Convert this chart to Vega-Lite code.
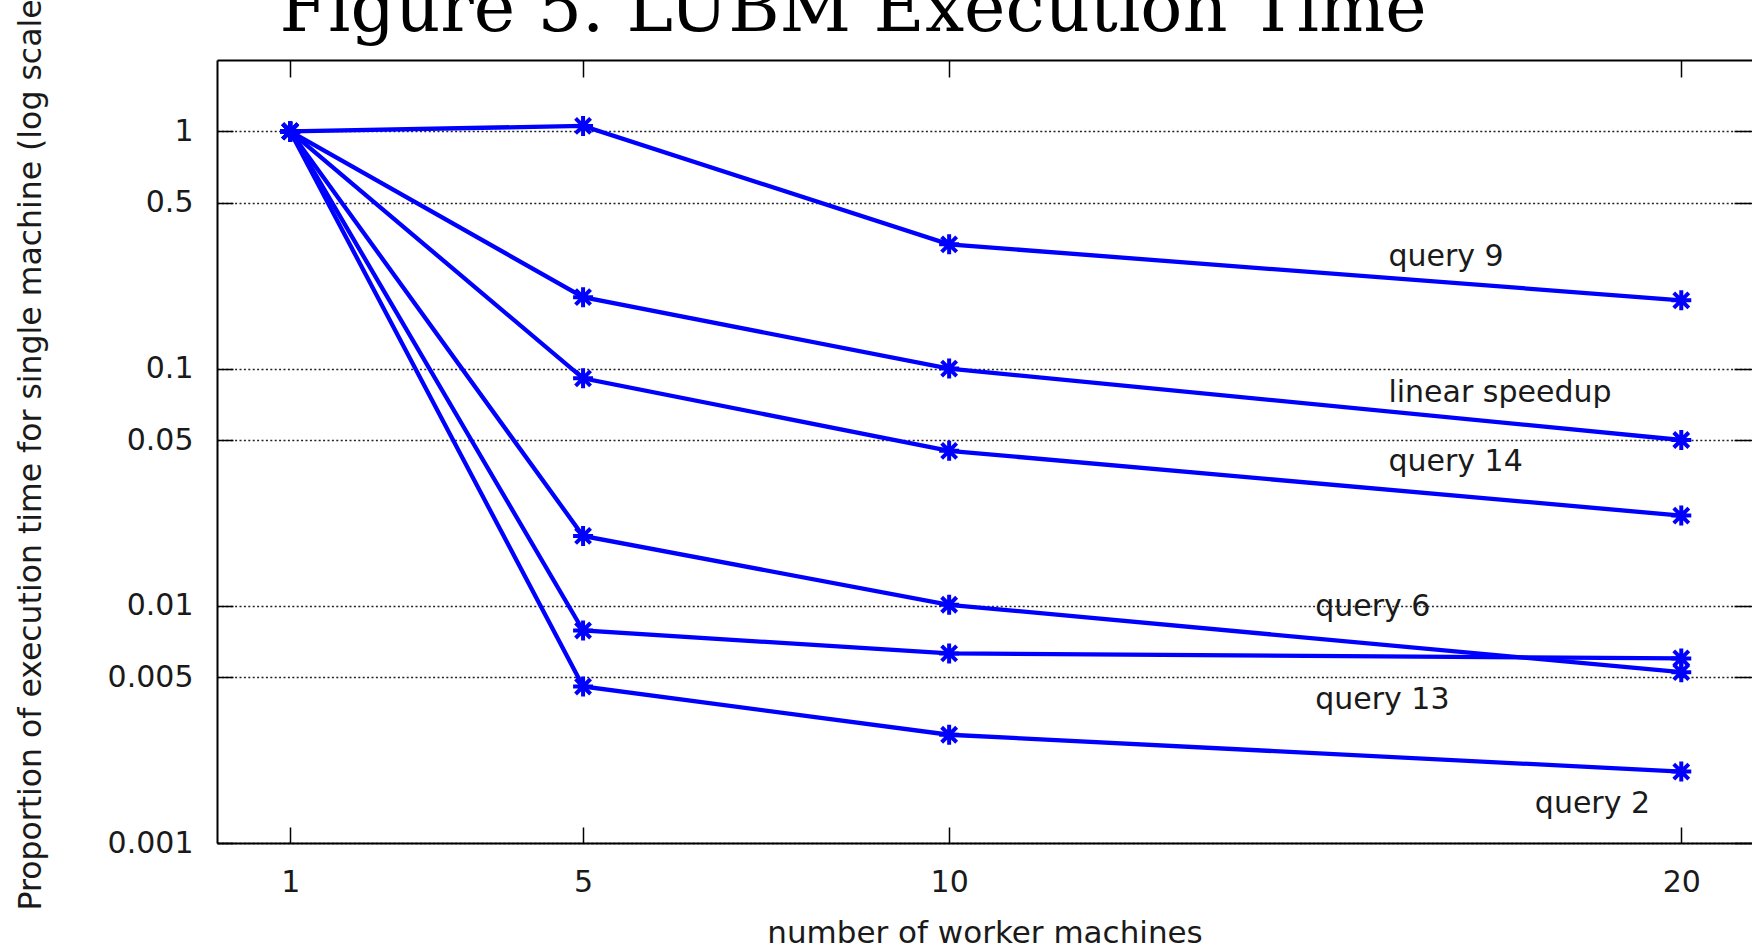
{
  "$schema": "https://vega.github.io/schema/vega-lite/v6.json",
  "width": 1535,
  "height": 783,
  "autosize": "none",
  "padding": {"left": 217, "top": 60, "right": 0, "bottom": 106},
  "background": "white",
  "config": {
    "view": {"stroke": null},
    "axis": {
      "labelFont": "DejaVu Sans",
      "labelFontSize": 30,
      "labelColor": "#1a1a1a",
      "titleFont": "DejaVu Sans",
      "titleFontSize": 31,
      "titleFontWeight": "normal",
      "titleColor": "#1a1a1a",
      "domainColor": "#000000",
      "domainWidth": 2,
      "tickColor": "#000000",
      "tickWidth": 1.5,
      "labelFlush": false,
      "labelOverlap": false
    }
  },
  "datasets": {
    "series": [
      {"series": "query 9", "machines": 1, "value": 1},
      {"series": "query 9", "machines": 5, "value": 1.055},
      {"series": "query 9", "machines": 10, "value": 0.334},
      {"series": "query 9", "machines": 20, "value": 0.194},
      {"series": "linear speedup", "machines": 1, "value": 1},
      {"series": "linear speedup", "machines": 5, "value": 0.2},
      {"series": "linear speedup", "machines": 10, "value": 0.1},
      {"series": "linear speedup", "machines": 20, "value": 0.05},
      {"series": "query 14", "machines": 1, "value": 1},
      {"series": "query 14", "machines": 5, "value": 0.091},
      {"series": "query 14", "machines": 10, "value": 0.045},
      {"series": "query 14", "machines": 20, "value": 0.024},
      {"series": "query 6", "machines": 1, "value": 1},
      {"series": "query 6", "machines": 5, "value": 0.0197},
      {"series": "query 6", "machines": 10, "value": 0.0101},
      {"series": "query 6", "machines": 20, "value": 0.00525},
      {"series": "query 13", "machines": 1, "value": 1},
      {"series": "query 13", "machines": 5, "value": 0.00787},
      {"series": "query 13", "machines": 10, "value": 0.0063},
      {"series": "query 13", "machines": 20, "value": 0.006},
      {"series": "query 2", "machines": 1, "value": 1},
      {"series": "query 2", "machines": 5, "value": 0.00457},
      {"series": "query 2", "machines": 10, "value": 0.00286},
      {"series": "query 2", "machines": 20, "value": 0.002}
    ],
    "labels": [
      {"label": "query 9", "lx": 16, "ly": 0.295},
      {"label": "linear speedup", "lx": 16, "ly": 0.079},
      {"label": "query 14", "lx": 16, "ly": 0.0405},
      {"label": "query 6", "lx": 15, "ly": 0.0099},
      {"label": "query 13", "lx": 15, "ly": 0.004},
      {"label": "query 2", "lx": 18, "ly": 0.00146}
    ]
  },
  "layer": [
    {
      "data": {"name": "series"},
      "mark": {"type": "line", "color": "#0000ff", "strokeWidth": 4.3},
      "encoding": {
        "x": {
          "field": "machines",
          "type": "quantitative",
          "scale": {"domain": [0, 20.966], "nice": false, "zero": false},
          "axis": {
            "orient": "bottom",
            "values": [1, 5, 10, 20],
            "format": "d",
            "tickSize": -16,
            "labelBaseline": "alphabetic",
            "labelPadding": 64,
            "grid": false,
            "title": "number of worker machines",
            "titleY": 99,
            "titleBaseline": "alphabetic"
          }
        },
        "y": {
          "field": "value",
          "type": "quantitative",
          "scale": {"type": "log", "domain": [0.001, 2], "nice": false},
          "axis": {
            "orient": "left",
            "values": [0.001, 0.005, 0.01, 0.05, 0.1, 0.5, 1],
            "format": "~g",
            "tickSize": -16,
            "labelPadding": 40,
            "grid": true,
            "gridColor": "#222222",
            "gridDash": [2, 2.4],
            "gridWidth": 1.6,
            "title": "Proportion of execution time for single machine (log scale)",
            "titleFontSize": 31.5,
            "titleAngle": 270,
            "titleX": -177,
            "titleY": 850,
            "titleAlign": "left",
            "titleBaseline": "alphabetic"
          }
        },
        "detail": {"field": "series"}
      }
    },
    {
      "data": {"name": "series"},
      "mark": {
        "type": "point",
        "shape": "M-1,0L1,0M0,-1L0,1M-0.75,-0.75L0.75,0.75M-0.75,0.75L0.75,-0.75",
        "filled": false,
        "color": "#0000ff",
        "stroke": "#0000ff",
        "strokeWidth": 4,
        "size": 400,
        "opacity": 1
      },
      "encoding": {
        "x": {"field": "machines", "type": "quantitative", "axis": null},
        "y": {"field": "value", "type": "quantitative", "axis": null}
      }
    },
    {
      "data": {"name": "labels"},
      "mark": {
        "type": "text",
        "align": "left",
        "baseline": "middle",
        "font": "DejaVu Sans",
        "fontSize": 30,
        "color": "#1a1a1a"
      },
      "encoding": {
        "x": {
          "field": "lx",
          "type": "quantitative",
          "axis": {
            "orient": "top",
            "values": [1, 5, 10, 20],
            "labels": false,
            "tickSize": -17,
            "grid": false,
            "title": "Figure 5. LUBM Execution Time",
            "titleFont": "DejaVu Serif",
            "titleFontSize": 70,
            "titleColor": "#000000",
            "titleX": 62,
            "titleY": -30,
            "titleAlign": "left",
            "titleBaseline": "alphabetic"
          }
        },
        "y": {
          "field": "ly",
          "type": "quantitative",
          "axis": {
            "orient": "right",
            "values": [0.001, 0.005, 0.01, 0.05, 0.1, 0.5, 1],
            "labels": false,
            "domain": false,
            "tickSize": -18,
            "grid": false,
            "title": null
          }
        },
        "text": {"field": "label"}
      }
    }
  ],
  "resolve": {"axis": {"x": "independent", "y": "independent"}}
}
